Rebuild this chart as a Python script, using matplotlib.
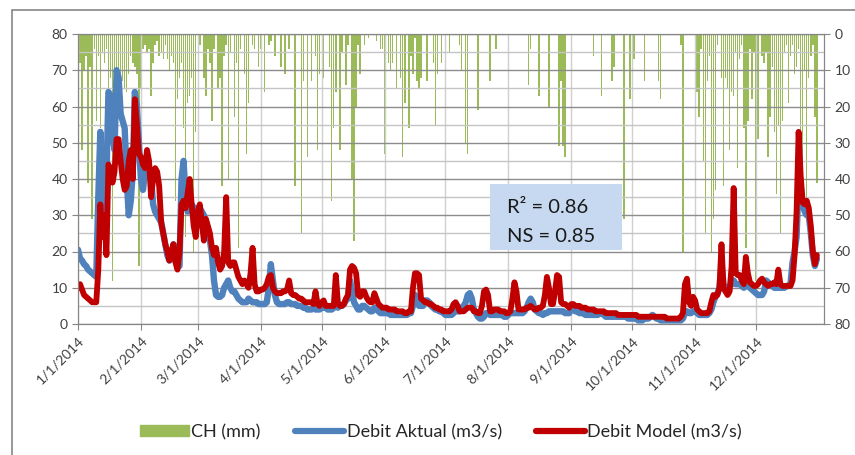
import numpy as np
import pandas as pd
import matplotlib
matplotlib.use("Agg")
import matplotlib.pyplot as plt
import matplotlib.dates as mdates
from matplotlib.patches import Patch, Rectangle
from matplotlib.lines import Line2D
from matplotlib.ticker import FuncFormatter

plt.rcParams['font.family'] = ['Lato', 'DejaVu Sans']

# debit aktual (m3/s), per month
aktual_jan = [20.5, 18, 17.5, 16.5, 16, 15, 14.5, 14, 13.5, 13, 35, 53, 30, 42, 40, 64, 63, 52, 48, 70,
              68, 58, 56, 54, 40, 30, 34, 42, 64, 60, 50]
aktual_feb = [40, 37, 42, 43, 42, 40, 33, 31, 30, 29, 28, 25, 22, 19, 17.5, 18, 22, 21, 17, 16,
              40, 45, 35, 31, 33, 33, 32, 30]
aktual_mar = [32, 32, 31, 30, 28, 26, 23, 19, 12, 8, 7.5, 7.5, 8, 10, 11, 12, 10, 9, 9, 8,
              7, 6.5, 6, 6, 6, 7, 6.5, 6, 6, 6, 5.5]
aktual_apr = [5.5, 5.5, 5.5, 6, 10, 16.5, 12, 8, 6, 5.5, 5.5, 5.5, 5.5, 6, 6, 5.5, 5.5, 5.5, 5, 5,
              5, 4.5, 4.5, 4, 4, 4, 4.5, 4, 4, 4]
aktual_may = [4.5, 4.5, 4.5, 4, 4, 4, 4.5, 5, 4.5, 5, 5, 5.5, 6.5, 7, 12, 9, 6, 5, 4, 4,
              5, 5, 4.5, 4, 3.5, 3.5, 4.5, 4.5, 3.5, 3, 3]
aktual_jun = [3, 3, 3, 2.5, 2.5, 2.5, 2.5, 2.5, 2.5, 2.5, 2.5, 2.5, 3, 3, 5, 8, 7, 5, 5, 5,
              6.5, 6.5, 6, 5, 4.5, 4, 4, 3.5, 3.5, 3]
aktual_jul = [2.5, 2.5, 2.5, 2.5, 3, 3.5, 3.5, 3.5, 4.5, 5, 6, 8, 8.5, 7, 4, 3, 2, 1.5, 1.5, 2,
              3, 3, 2.5, 2.5, 2.5, 2.5, 2.5, 2.5, 2.5, 2, 2]
aktual_aug = [2.5, 3, 3, 3, 3, 3, 3, 3, 3.5, 4.5, 6, 7, 6, 4, 3.5, 3, 3, 2.5, 3, 3,
              3.5, 3.5, 3.5, 3.5, 3.5, 3.5, 3.5, 3.5, 3, 3, 3]
aktual_sep = [4.5, 4, 3.5, 3.5, 3, 3, 3, 2.5, 2.5, 2.5, 2.5, 2.5, 2.5, 2.5, 3, 3, 2.5, 2, 2, 2,
              2, 2, 2, 2, 2, 2, 2, 2, 1.5, 1.5]
aktual_oct = [1.5, 1.5, 1.5, 1, 1, 1, 1.5, 1.5, 1.5, 2, 2.5, 2, 1.5, 1.5, 1, 1, 1, 1, 1, 1,
              1, 1, 1, 1, 1, 1.5, 3, 3.5, 3, 3, 3.5]
aktual_nov = [3.5, 3, 2.5, 2.5, 2.5, 2.5, 2.5, 3, 4, 6, 7.5, 8.5, 10, 16, 11, 9, 9.5, 10.5, 11, 12,
              11, 11, 11, 10.5, 10, 10.5, 11, 10, 9.5, 9]
aktual_dec = [8.5, 8, 8, 8, 9, 12, 11.5, 11, 10.5, 10, 10, 10, 10, 10, 10, 10.5, 10.5, 11, 17, 20,
              24, 40, 38, 33, 31, 30, 30, 25, 19, 16, 18]

# debit model (m3/s), per month
model_jan = [10, 11, 9.5, 8, 7.5, 7, 6.5, 6, 6, 6, 15, 33, 24, 30, 19, 44, 42, 39, 42, 51,
             51, 45, 40, 37, 38, 45, 48, 40, 62, 55, 47]
model_feb = [46, 44, 43, 48, 45, 35, 40, 43, 42, 38, 28, 25, 22, 20, 17.5, 20, 22, 17, 15, 20,
             33, 34, 32, 36, 40, 33, 27, 24]
model_mar = [31, 33, 28, 23, 29, 27, 25, 21, 19, 21, 17, 15, 16, 20, 35, 17, 16, 17, 17, 15,
             13, 12, 11, 12, 11, 10, 14, 21, 11, 9, 9]
model_apr = [9.5, 9.5, 10, 11, 13, 13.5, 10, 9, 8.5, 8.5, 8.5, 9, 9, 9.5, 12, 8.5, 8, 8, 7.5, 7,
             7, 6.5, 6, 6, 6, 6, 5.5, 9, 5.5, 5]
model_may = [6, 6.5, 5, 5, 5, 5, 5, 13.5, 6, 5, 5, 5.5, 7, 8, 15, 16, 15.5, 14, 8, 7.5,
             9, 9, 7.5, 6.5, 6, 6, 8.5, 7, 5.5, 5, 4.5]
model_jun = [4.5, 4.5, 4, 4, 4, 4, 3.5, 3.5, 3.5, 3.5, 3, 3, 3.5, 3.5, 10, 14, 14, 13.5, 7, 6.5,
             6, 6, 5.5, 5.5, 5, 4.5, 4.5, 4, 4, 3.5]
model_jul = [3.5, 3.5, 3.5, 4, 5.5, 6, 5, 3.5, 3.5, 3.5, 4, 4.5, 4.5, 4.5, 3.5, 3.5, 3, 3, 5, 9,
             9.5, 8, 3.5, 3.5, 4, 4, 4, 3.5, 3.5, 3.5, 3]
model_aug = [3, 3.5, 7, 11.5, 9, 4, 4, 4, 4, 4.5, 4.5, 5, 4.5, 4, 4, 4.5, 4.5, 5, 8, 13,
             10, 5.5, 5.5, 9, 13.5, 13, 6, 5.5, 5.5, 5, 4.5]
model_sep = [5.5, 5.5, 5, 5, 5, 4.5, 4.5, 4.5, 4, 4, 4, 4, 3.5, 3.5, 3.5, 3.5, 3.5, 3, 3, 3,
             3, 3, 3, 2.5, 2.5, 2.5, 2.5, 2.5, 2.5, 2.5]
model_oct = [2.5, 2.5, 2.5, 2, 2, 2, 2, 2, 2, 2, 2, 2, 2, 2, 2, 2, 2, 1.5, 1.5, 1.5,
             1.5, 1.5, 1.5, 1.5, 2, 3, 11, 12.5, 6, 5, 7.5]
model_nov = [6.5, 4, 3.5, 3, 3, 3, 3, 3.5, 6, 8, 7.5, 8, 10, 22, 10, 9, 8, 9, 16, 37.5,
             14, 13.5, 13.5, 12, 11, 18.5, 14, 11.5, 11, 10.5]
model_dec = [10.5, 11, 12, 12.5, 11.5, 11, 10.5, 11, 11, 11.5, 11, 15, 11, 10.5, 10.5, 10.5, 10.5, 10.5, 12, 19,
             31, 53, 41, 33.5, 33, 34, 32, 27, 20, 16.5, 19]

# curah hujan CH (mm), per month
ch_jan = [12, 8, 32, 10, 6, 41, 9, 51, 4, 24, 6, 26, 5, 8, 4, 23, 12, 68, 12, 10,
          14, 19, 13, 15, 16, 11, 6, 8, 9, 11, 64]
ch_feb = [15, 4, 3, 5, 4, 17, 8, 3, 2, 6, 5, 7, 3, 7, 10, 6, 8, 46, 18, 12,
          8, 26, 56, 19, 17, 12, 60, 27]
ch_mar = [0, 3, 0, 12, 17, 4, 8, 24, 4, 0, 15, 12, 42, 6, 3, 40, 5, 0, 23, 8,
          59, 4, 0, 11, 33, 19, 0, 3, 4, 0, 9]
ch_apr = [4, 0, 16, 0, 3, 2, 0, 6, 0, 0, 9, 0, 11, 0, 4, 0, 0, 42, 0, 0,
          55, 13, 0, 34, 0, 13, 0, 6, 32, 11]
ch_may = [0, 12, 0, 0, 9, 46, 26, 16, 0, 32, 5, 0, 14, 3, 0, 40, 57, 20, 3, 11,
          0, 3, 0, 1, 0, 0, 0, 2, 0, 4, 4]
ch_jun = [33, 0, 8, 10, 8, 0, 15, 0, 12, 34, 19, 0, 26, 6, 11, 1, 13, 15, 12, 0,
          0, 13, 0, 0, 8, 25, 11, 0, 8, 0]
ch_jul = [0, 0, 5, 0, 0, 0, 0, 3, 10, 0, 30, 33, 0, 0, 0, 0, 21, 0, 0, 0,
          0, 0, 13, 0, 0, 4, 0, 0, 0, 0, 0]
ch_aug = [0, 0, 0, 0, 0, 0, 0, 0, 0, 0, 14, 4, 0, 0, 0, 17, 0, 0, 0, 0,
          20, 0, 0, 0, 0, 31, 13, 31, 34, 0, 0]
ch_sep = [0, 0, 0, 0, 0, 0, 0, 0, 0, 0, 0, 6, 0, 0, 0, 17, 0, 0, 0, 0,
          13, 9, 0, 0, 0, 0, 51, 0, 0, 18]
ch_oct = [0, 7, 0, 0, 0, 0, 13, 0, 0, 0, 0, 0, 0, 13, 18, 0, 0, 0, 0, 0,
          0, 0, 0, 0, 3, 60, 0, 0, 0, 0, 0]
ch_nov = [0, 16, 23, 4, 35, 55, 13, 6, 60, 51, 43, 3, 0, 12, 42, 12, 15, 32, 16, 17,
          5, 37, 7, 3, 26, 59, 24, 4, 18, 5]
ch_dec = [68, 29, 0, 6, 8, 5, 34, 23, 9, 27, 44, 25, 55, 24, 5, 3, 19, 6, 3, 11,
          9, 4, 45, 35, 10, 50, 12, 6, 3, 23, 41]

aktual = np.concatenate([aktual_jan, aktual_feb, aktual_mar, aktual_apr, aktual_may, aktual_jun,
                         aktual_jul, aktual_aug, aktual_sep, aktual_oct, aktual_nov, aktual_dec])
model = np.concatenate([model_jan, model_feb, model_mar, model_apr, model_may, model_jun,
                        model_jul, model_aug, model_sep, model_oct, model_nov, model_dec])
ch = np.concatenate([ch_jan, ch_feb, ch_mar, ch_apr, ch_may, ch_jun,
                     ch_jul, ch_aug, ch_sep, ch_oct, ch_nov, ch_dec])
dates = pd.date_range("2014-01-01", "2014-12-31", freq="D")

grey = '#868686'

fig = plt.figure(figsize=(8.55, 4.55), dpi=100)
ax = fig.add_axes([78 / 855, 1 - 324 / 455, 746 / 855, 290 / 455])
ax2 = ax.twinx()

# rainfall hanging from the top (inverted right axis)
ax2.bar(dates, ch, width=0.7, color='#9bbb59', linewidth=0, antialiased=False)
ax2.set_ylim(80, 0)
ax2.set_yticks(range(0, 81, 10))

ax.set_zorder(ax2.get_zorder() + 1)
ax.patch.set_visible(False)

ax.plot(dates, aktual, color='#4f81bd', lw=4.6, solid_joinstyle='round', solid_capstyle='round')
ax.plot(dates, model, color='#c00000', lw=4.2, solid_joinstyle='round', solid_capstyle='round')

ax.set_ylim(0, 80)
ax.set_yticks(range(0, 81, 10))
ax.set_yticks(range(5, 80, 10), minor=True)
ax.set_xlim(dates[0], dates[0] + pd.Timedelta(days=367.5))
ax.xaxis.set_major_locator(mdates.MonthLocator(bymonth=range(1, 13)))
ax.set_xticks([d for d in dates if d.day == 1])
ax.xaxis.set_major_formatter(FuncFormatter(
    lambda v, pos: "{d.month}/{d.day}/{d.year}".format(d=mdates.num2date(v))))

ax.grid(axis='y', which='major', color='#8c8c8c', lw=1)
ax.grid(axis='y', which='minor', color='#c4c4c4', lw=1)
ax.grid(axis='x', which='major', color='#d0d0d0', lw=1)
ax.set_axisbelow(True)

for a in (ax, ax2):
    for s in a.spines.values():
        s.set_color(grey)
    a.tick_params(colors=grey, labelcolor='#404040', labelsize=10, length=4)
ax.tick_params(axis='y', which='minor', length=0)
plt.setp(ax.get_xticklabels(), rotation=45, ha='right', rotation_mode='anchor')

# R2 / NS box
ax.add_patch(Rectangle((0.552, 0.255), 0.177, 0.228, transform=ax.transAxes,
                       fc='#c6d9f0', ec='none', zorder=5))
ax.text(0.575, 0.403, "R² = 0.86", transform=ax.transAxes, fontsize=14.5,
        va='center', ha='left', color='#1a1a1a', zorder=6)
ax.text(0.575, 0.300, "NS = 0.85", transform=ax.transAxes, fontsize=14.5,
        va='center', ha='left', color='#1a1a1a', zorder=6)

handles = [Patch(color='#9bbb59'),
           Line2D([], [], color='#4f81bd', lw=4.5, solid_capstyle='round'),
           Line2D([], [], color='#c00000', lw=4.5, solid_capstyle='round')]
labels = ['CH (mm)', 'Debit Aktual (m3/s)', 'Debit Model (m3/s)']
fig.legend(handles, labels, loc='center', bbox_to_anchor=(441 / 855, 1 - 432 / 455), ncol=3,
           frameon=False, fontsize=13, handlelength=2.7, handleheight=0.6, handletextpad=0.15,
           columnspacing=1.9, labelcolor='#262626')

# chart-area frame: only its top and left edges fall inside the picture
fig.add_artist(Rectangle((12 / 855, -0.1), 1, 1.1 - 10 / 455, transform=fig.transFigure,
                         fill=False, ec=grey, lw=1.2))

fig.savefig("out.png", dpi=100)
